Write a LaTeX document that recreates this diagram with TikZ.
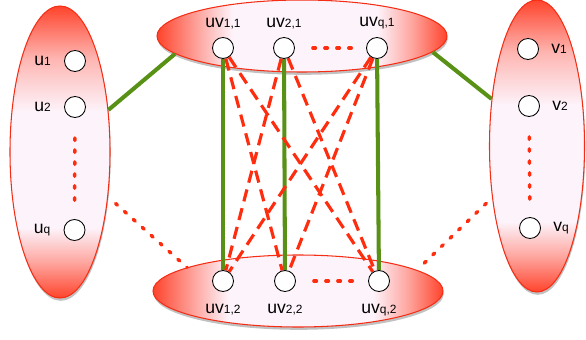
\documentclass[tikz,border=0pt]{standalone}
\usepackage{fontspec}
\setmainfont{Liberation Sans}
\usetikzlibrary{shapes.geometric,shadows}
\definecolor{setred}{RGB}{255,68,44}
\definecolor{setwhite}{RGB}{253,243,250}
\definecolor{rimred}{RGB}{245,45,20}
\definecolor{dashred}{RGB}{255,45,15}
\definecolor{matchgreen}{RGB}{88,145,22}
\pgfdeclarehorizontalshading{setwide}{100bp}{color(0bp)=(setred); color(25bp)=(setred); color(32bp)=(setred!45!setwhite); color(38bp)=(setwhite); color(63bp)=(setwhite); color(69bp)=(setred!45!setwhite); color(75bp)=(setred); color(100bp)=(setred)}
\pgfdeclareverticalshading{settall}{100bp}{color(0bp)=(setred); color(25bp)=(setred); color(31bp)=(setred!45!setwhite); color(37bp)=(setwhite); color(57bp)=(setwhite); color(66bp)=(setred!35!setwhite); color(75bp)=(setred); color(100bp)=(setred)}
\pgfdeclarelayer{bg}
\pgfdeclarelayer{edges}
\pgfsetlayers{bg,edges,main}
\tikzset{
  vertex/.style={circle, draw, fill=white, inner sep=0pt, minimum size=0.42cm, line width=0.5pt},
  setshape/.style={ellipse, draw=rimred, line width=0.6pt, inner sep=0pt,
    drop shadow={shadow xshift=0.4pt, shadow yshift=-1.6pt, opacity=0.35, fill=black!70}},
  wideset/.style={setshape, shading=setwide, minimum width=5.8cm, minimum height=1.44cm},
  tallset/.style={setshape, shading=settall, minimum width=2cm, minimum height=5.84cm},
  matching/.style={draw=matchgreen, line width=2.3pt},
  crossing/.style={draw=dashred, line width=1.8pt, dash pattern=on 7pt off 4pt},
  gap/.style={draw=dashred, line width=2pt, line cap=round, dash pattern=on 1.4pt off 5.4pt},
  every label/.style={inner sep=0pt, font=\fontsize{10}{12}\selectfont},
}
\newcommand{\ix}[1]{{\fontsize{6.8}{8}\selectfont #1}}

\begin{document}
\begin{tikzpicture}
        \useasboundingbox (0cm, 0cm) rectangle (11.72cm, 6.78cm);
        \begin{pgfonlayer}{bg}
                \node (U) [tallset] at (1.20cm, 3.74cm) {};
                \node (V) [tallset, minimum width=1.9cm] at (10.74cm, 3.86cm) {};
                \node (UVa) [wideset] at (6.04cm, 6.06cm) {};
                \node (UVb) [wideset] at (5.96cm, 0.96cm) {};
        \end{pgfonlayer}
        \node (u1) [vertex, label={[label distance=0.26cm]left:u\ix{1}}] at (1.50cm, 5.56cm) {};
        \node (u2) [vertex, label={[label distance=0.26cm]left:u\ix{2}}] at (1.50cm, 4.64cm) {};
        \node (uq) [vertex, label={[label distance=0.26cm]left:u\ix{q}}] at (1.49cm, 2.18cm) {};
        \node (v1) [vertex, label={[label distance=0.24cm]right:v\ix{1}}] at (10.56cm, 5.80cm) {};
        \node (v2) [vertex, label={[label distance=0.24cm]right:v\ix{2}}] at (10.58cm, 4.66cm) {};
        \node (vq) [vertex, label={[label distance=0.24cm]right:v\ix{q}}] at (10.60cm, 2.22cm) {};
        \node (uv11) [vertex, label={[label distance=0.15cm]above:uv\ix{1,1}}] at (4.46cm, 5.82cm) {};
        \node (uv21) [vertex, label={[label distance=0.15cm]above:uv\ix{2,1}}] at (5.68cm, 5.82cm) {};
        \node (uvq1) [vertex, label={[label distance=0.15cm]above:uv\ix{q,1}}] at (7.54cm, 5.82cm) {};
        \node (uv12) [vertex, label={[label distance=0.24cm]below:uv\ix{1,2}}] at (4.46cm, 1.16cm) {};
        \node (uv22) [vertex, label={[label distance=0.24cm]below:uv\ix{2,2}}] at (5.70cm, 1.16cm) {};
        \node (uvq2) [vertex, label={[label distance=0.24cm]below:uv\ix{q,2}}] at (7.58cm, 1.16cm) {};
        \begin{pgfonlayer}{edges}
                \draw (U.41) edge [matching] (UVa.188);
                \draw (UVa.353.5) edge [matching] (V.134.4);
                \draw (U.-43) edge [gap, shorten <=0.2cm] (UVb.168.7);
                \draw (UVb.10.5) edge [gap, shorten <=0.2cm] (V.229.8);
                \draw (u2) edge [gap, shorten <=0.4cm, shorten >=0.3cm] (uq);
                \draw (v2) edge [gap, shorten <=0.4cm, shorten >=0.3cm] (vq);
                \draw (uv21) edge [gap, shorten <=0.36cm, shorten >=0.22cm] (uvq1);
                \draw (uv22) edge [gap, shorten <=0.36cm, shorten >=0.22cm] (uvq2);
                \draw (uv11) edge [matching] (uv12);
                \draw (uv21) edge [matching] (uv22);
                \draw (uvq1) edge [matching] (uvq2);
                \draw (uv11) edge [crossing] (uv22);
                \draw (uv11) edge [crossing] (uvq2);
                \draw (uv21) edge [crossing] (uv12);
                \draw (uv21) edge [crossing] (uvq2);
                \draw (uvq1) edge [crossing] (uv12);
                \draw (uvq1) edge [crossing] (uv22);
        \end{pgfonlayer}
\end{tikzpicture}
\end{document}
